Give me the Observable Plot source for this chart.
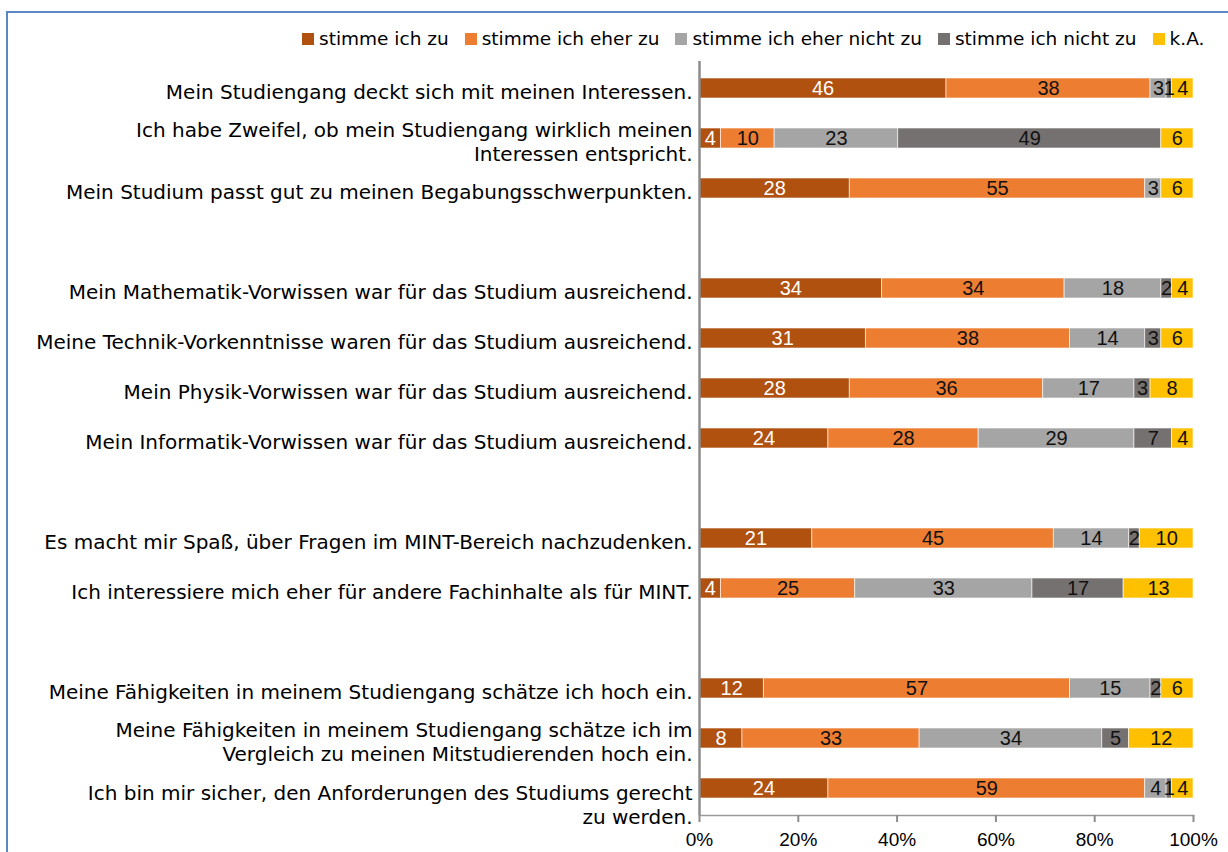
<!DOCTYPE html>
<html>
<head>
<meta charset="utf-8">
<script src="https://cdn.jsdelivr.net/npm/d3@7"></script>
<script src="https://cdn.jsdelivr.net/npm/@observablehq/plot@0.6"></script>
<style>
  html, body { margin: 0; padding: 0; background: #fff; }
  body { width: 1228px; height: 852px; position: relative; overflow: hidden; font-family: "DejaVu Sans", sans-serif; }
  #frame { position: absolute; left: 6px; top: 11px; width: 1300px; height: 900px; border-left: 2px solid #5b87c6; border-top: 2px solid #5b87c6; }
  #chart { position: absolute; left: 0; top: 0; }
  #legend { position: absolute; left: 302px; top: 28px; display: flex; gap: 16px; font-size: 18.5px; color: #000; align-items: center; }
  #legend .item { display: flex; align-items: center; }
  #legend .sw { width: 12px; height: 12px; display: inline-block; margin-right: 5px; }
</style>
</head>
<body>
<div id="frame"></div>
<div id="chart"></div>
<div id="legend"></div>
<script>
// ---- data ----
const series = ["stimme ich zu", "stimme ich eher zu", "stimme ich eher nicht zu", "stimme ich nicht zu", "k.A."];
const colors = ["#b0510f", "#ed7d31", "#a5a5a5", "#767171", "#ffc000"];

const statements = [
  "Mein Studiengang deckt sich mit meinen Interessen.",
  "Ich habe Zweifel, ob mein Studiengang wirklich meinen\nInteressen entspricht.",
  "Mein Studium passt gut zu meinen Begabungsschwerpunkten.",
  "Mein Mathematik-Vorwissen war für das Studium ausreichend.",
  "Meine Technik-Vorkenntnisse waren für das Studium ausreichend.",
  "Mein Physik-Vorwissen war für das Studium ausreichend.",
  "Mein Informatik-Vorwissen war für das Studium ausreichend.",
  "Es macht mir Spaß, über Fragen im MINT-Bereich nachzudenken.",
  "Ich interessiere mich eher für andere Fachinhalte als für MINT.",
  "Meine Fähigkeiten in meinem Studiengang schätze ich hoch ein.",
  "Meine Fähigkeiten in meinem Studiengang schätze ich im\nVergleich zu meinen Mitstudierenden hoch ein.",
  "Ich bin mir sicher, den Anforderungen des Studiums gerecht\nzu werden."
];
// group sizes (an empty row separates groups)
const groupSizes = [3, 4, 2, 3];

const zu        = [46, 4, 28, 34, 31, 28, 24, 21, 4, 12, 8, 24];
const eherZu    = [38, 10, 55, 34, 38, 36, 28, 45, 25, 57, 33, 59];
const eherNicht = [3, 23, 3, 18, 14, 17, 29, 14, 33, 15, 34, 4];
const nicht     = [1, 49, 0, 2, 3, 3, 7, 2, 17, 2, 5, 1];
const ka        = [4, 6, 6, 4, 6, 8, 4, 10, 13, 6, 12, 4];

const xTicks = [0, 0.2, 0.4, 0.6, 0.8, 1];

// ---- build tables ----
const valueArrays = [zu, eherZu, eherNicht, nicht, ka];
const data = [];
statements.forEach((s, i) => {
  series.forEach((ser, j) => data.push({label: s, series: ser, value: valueArrays[j][i]}));
});
const yDomain = [];
let k = 0;
groupSizes.forEach((n, g) => {
  for (let i = 0; i < n; i++) yDomain.push(statements[k++]);
  if (g < groupSizes.length - 1) yDomain.push("__gap" + g);
});

const stackOpts = {x: "value", y: "label", z: "series", offset: "normalize", order: series};
const lastLabel = statements[statements.length - 1];
const labelStyle = {x: () => 0, y: d => d, text: d => d, textAnchor: "end", dx: -7, lineHeight: 1.2,
  fill: "#000", fontSize: 20, fontFamily: "DejaVu Sans"};

const plot = Plot.plot({
  width: 1228,
  height: 852,
  marginLeft: 699,
  marginRight: 35,
  marginTop: 61,
  marginBottom: 37,
  style: {fontFamily: "Liberation Sans, Arial, sans-serif", fontSize: "19px", background: "transparent", color: "#000"},
  x: {domain: [0, 1], axis: null},
  y: {domain: yDomain, paddingInner: 0.6, paddingOuter: 0.3, axis: null},
  color: {domain: series, range: colors},
  marks: [
    Plot.barX(data, Plot.stackX({...stackOpts, fill: "series", stroke: "#fff", strokeOpacity: 0.6, strokeWidth: 1})),
    Plot.text(data, Plot.stackX({...stackOpts,
      text: d => (d.series === series[0] && d.value > 0) ? String(d.value) : "",
      fill: "white", fontSize: 20})),
    Plot.text(data, Plot.stackX({...stackOpts,
      text: d => (d.series !== series[0] && d.value > 0) ? String(d.value) : "",
      fill: "#111", fontSize: 20})),
    Plot.text(statements.filter(s => s !== lastLabel), {...labelStyle, dy: 3}),
    Plot.text([lastLabel], {...labelStyle, dy: 16}),
    Plot.frame({anchor: "bottom", stroke: "#9a9a9a", strokeWidth: 1.5}),
    Plot.axisX(xTicks, {tickFormat: d3.format(".0%"), tickSize: 7, tickPadding: 10, stroke: "#8c8c8c", fill: "#000", fontSize: 19, strokeWidth: 2, label: null}),
    Plot.ruleX([0], {stroke: "#8c8c8c", strokeWidth: 2.5})
  ]
});
document.getElementById("chart").appendChild(plot);

// ---- legend ----
const legend = document.getElementById("legend");
series.forEach((s, i) => {
  const item = document.createElement("span");
  item.className = "item";
  const sw = document.createElement("span");
  sw.className = "sw";
  sw.style.background = colors[i];
  item.appendChild(sw);
  item.appendChild(document.createTextNode(s));
  legend.appendChild(item);
});
</script>
</body>
</html>
